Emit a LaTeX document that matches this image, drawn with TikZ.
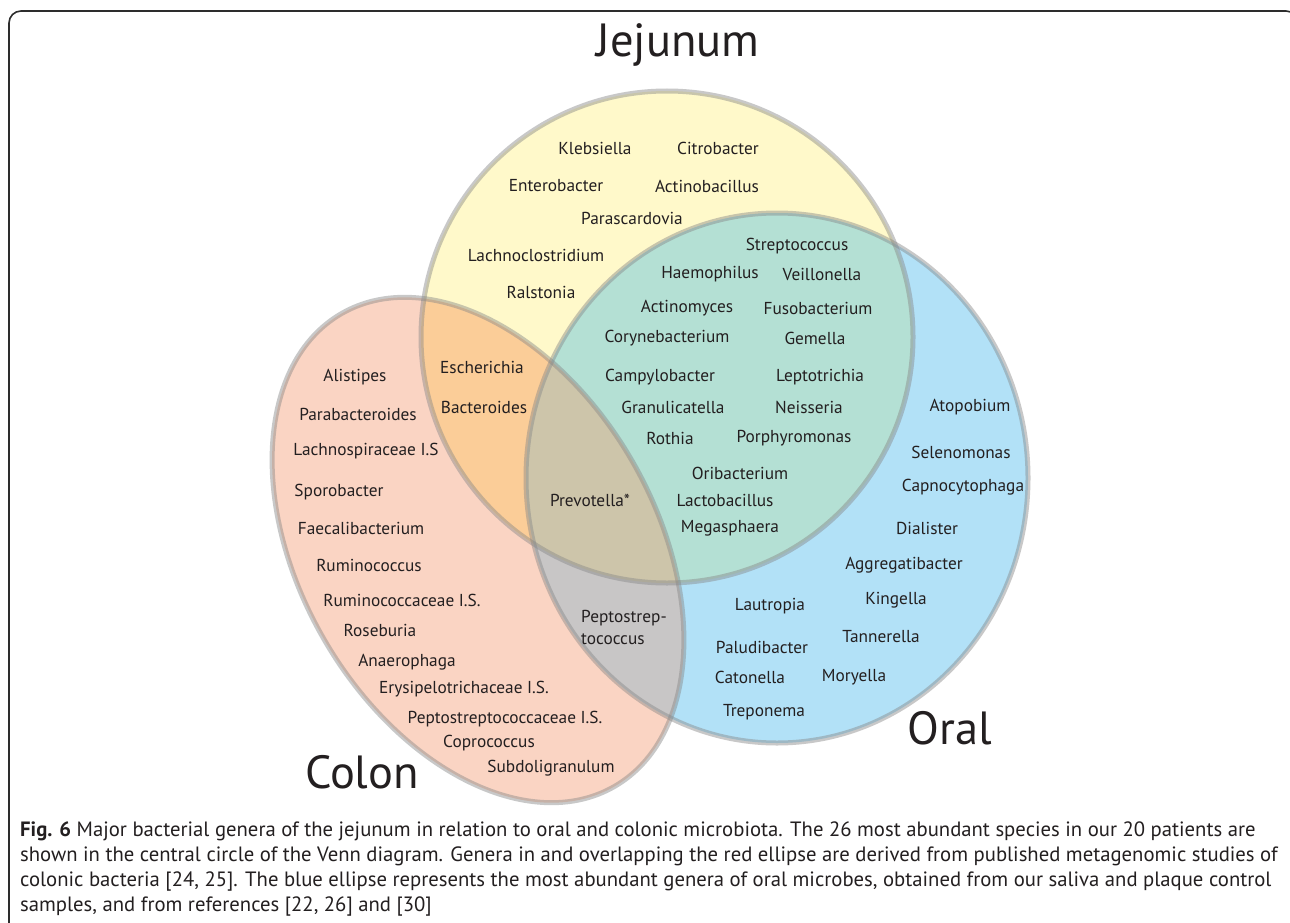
\documentclass[tikz,border=0pt]{standalone}
\usepackage{fontspec}
\setmainfont{PT Sans}
\definecolor{colJ}{RGB}{255,249,202}
\definecolor{colC}{RGB}{250,212,195}
\definecolor{colO}{RGB}{178,225,247}
\definecolor{colJO}{RGB}{180,224,212}
\definecolor{colJC}{RGB}{251,205,152}
\definecolor{colCO}{RGB}{200,198,198}
\definecolor{colJCO}{RGB}{205,197,170}
\definecolor{rim}{RGB}{135,135,135}
\definecolor{txt}{RGB}{35,31,32}
\definecolor{framecol}{RGB}{45,45,45}
\tikzset{
  lab/.style={font=\fontsize{17.3}{20}\selectfont, text=txt, inner sep=0pt},
  ttl/.style={font=\fontsize{46.5}{52}\selectfont, text=txt, inner sep=0pt},
  captxt/.style={font=\fontsize{20.7}{25}\selectfont, text=txt, inner sep=0pt, anchor=base west},
  rimline/.style={draw=rim, draw opacity=0.45, line width=5pt},
  pJ/.style={insert path={(667,-337) circle[radius=246]}},
  pO/.style={insert path={(777,-478) circle[x radius=251, y radius=265]}},
  pC/.style={insert path={(478,-550) circle[x radius=273, y radius=178, rotate=-60]}}
}
\begin{document}
\begin{tikzpicture}[x=1pt,y=1pt]
\useasboundingbox (0,0) rectangle (1290,-923);
\fill[white] (0,0) rectangle (1290,-923);
\draw[framecol, line width=1.6pt, rounded corners=12pt] (9,-11) rectangle (1298,-960);
% base fills
\fill[colC, pC];
\fill[colJ, pJ];
\fill[colO, pO];
\begin{scope}\clip[pJ]; \fill[colJO, pO]; \end{scope}
\begin{scope}\clip[pJ]; \fill[colJC, pC]; \end{scope}
\begin{scope}\clip[pC]; \fill[colCO, pO]; \end{scope}
\begin{scope}\clip[pC]; \clip[pJ]; \fill[colJCO, pO]; \end{scope}
% rims
\path[rimline, pC];
\path[rimline, pJ];
\path[rimline, pO];
% titles
\node[ttl] (tJ) at (678,-45) {Jejunum};
\node[ttl] (tC) at (362,-772) {Colon};
\node[ttl] (tO) at (950,-728) {Oral};
% jejunum only
\node[lab] (klebsiella) at (595,-148) {Klebsiella};
\node[lab] (citrobacter) at (718,-148) {Citrobacter};
\node[lab] (enterobacter) at (556,-186) {Enterobacter};
\node[lab] (actinobacillus) at (707,-186) {Actinobacillus};
\node[lab] (parascardovia) at (632,-218) {Parascardovia};
\node[lab] (lachnoclostridium) at (536,-255) {Lachnoclostridium};
\node[lab] (ralstonia) at (541,-292) {Ralstonia};
% jejunum & oral
\node[lab] (streptococcus) at (797,-246) {Streptococcus};
\node[lab] (haemophilus) at (710,-274) {Haemophilus};
\node[lab] (veillonella) at (822,-274) {Veillonella};
\node[lab] (actinomyces) at (687,-308) {Actinomyces};
\node[lab] (fusobacterium) at (818,-308) {Fusobacterium};
\node[lab] (corynebacterium) at (667,-338) {Corynebacterium};
\node[lab] (gemella) at (815,-338) {Gemella};
\node[lab] (campylobacter) at (660,-377) {Campylobacter};
\node[lab] (leptotrichia) at (820,-377) {Leptotrichia};
\node[lab] (granulicatella) at (673,-407) {Granulicatella};
\node[lab] (neisseria) at (809,-407) {Neisseria};
\node[lab] (rothia) at (670,-438) {Rothia};
\node[lab] (porphyromonas) at (794,-438) {Porphyromonas};
\node[lab] (oribacterium) at (740,-473) {Oribacterium};
\node[lab] (lactobacillus) at (725,-500) {Lactobacillus};
\node[lab] (megasphaera) at (730,-528) {Megasphaera};
% jejunum & colon
\node[lab] (escherichia) at (482,-367) {Escherichia};
\node[lab] (bacteroides) at (484,-407) {Bacteroides};
% all three
\node[lab] (prevotella) at (590,-500) {Prevotella*};
% colon & oral
\node[lab, align=left, anchor=west, font=\fontsize{17.3}{22}\selectfont] (peptostrep) at (581,-627) {Peptostrep-\\tococcus};
% colon only
\node[lab] (alistipes) at (355,-377) {Alistipes};
\node[lab] (parabacteroides) at (358,-414) {Parabacteroides};
\node[lab] (lachnospiraceae) at (366,-451) {Lachnospiraceae I.S};
\node[lab] (sporobacter) at (339,-492) {Sporobacter};
\node[lab] (faecalibacterium) at (361,-528) {Faecalibacterium};
\node[lab] (ruminococcus) at (369,-565) {Ruminococcus};
\node[lab] (ruminococcaceae) at (402,-600) {Ruminococcaceae I.S.};
\node[lab] (roseburia) at (380,-630) {Roseburia};
\node[lab] (anaerophaga) at (407,-662) {Anaerophaga};
\node[lab] (erysipelotrichaceae) at (464,-689) {Erysipelotrichaceae I.S.};
\node[lab] (peptostreptococcaceae) at (505,-719) {Peptostreptococcaceae I.S.};
\node[lab] (coprococcus) at (489,-743) {Coprococcus};
\node[lab] (subdoligranulum) at (551,-768) {Subdoligranulum};
% oral only
\node[lab] (atopobium) at (970,-407) {Atopobium};
\node[lab] (selenomonas) at (961,-452) {Selenomonas};
\node[lab] (capnocytophaga) at (963,-487) {Capnocytophaga};
\node[lab] (dialister) at (927,-528) {Dialister};
\node[lab] (aggregatibacter) at (904,-565) {Aggregatibacter};
\node[lab] (kingella) at (896,-600) {Kingella};
\node[lab] (tannerella) at (881,-637) {Tannerella};
\node[lab] (moryella) at (854,-677) {Moryella};
\node[lab] (lautropia) at (770,-606) {Lautropia};
\node[lab] (paludibacter) at (762,-647) {Paludibacter};
\node[lab] (catonella) at (750,-677) {Catonella};
\node[lab] (treponema) at (764,-712) {Treponema};
% caption
\node[captxt] (cap1) at (20,-836) {\textbf{Fig. 6} Major bacterial genera of the jejunum in relation to oral and colonic microbiota. The 26 most abundant species in our 20 patients are};
\node[captxt] (cap2) at (20,-861) {shown in the central circle of the Venn diagram. Genera in and overlapping the red ellipse are derived from published metagenomic studies of};
\node[captxt] (cap3) at (20,-886) {colonic bacteria [24, 25]. The blue ellipse represents the most abundant genera of oral microbes, obtained from our saliva and plaque control};
\node[captxt] (cap4) at (20,-911) {samples, and from references [22, 26] and [30]};
\end{tikzpicture}
\end{document}
